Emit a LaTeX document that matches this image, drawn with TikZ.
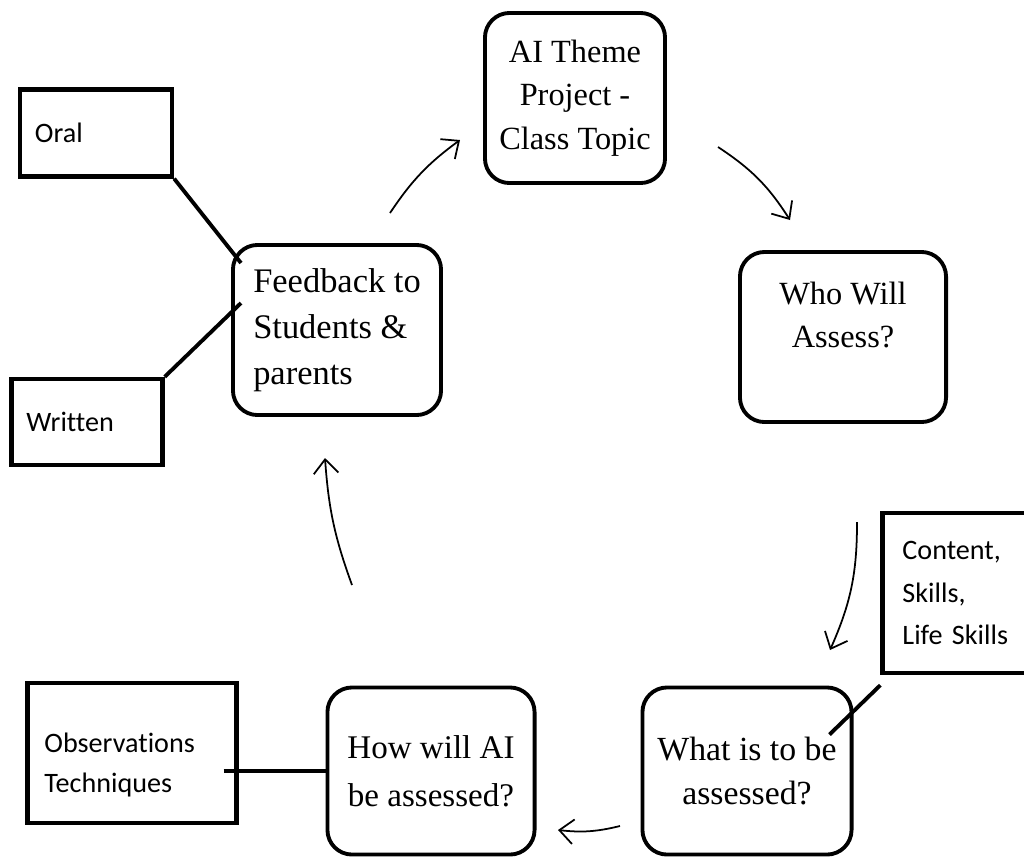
\documentclass[tikz,border=0pt]{standalone}
\usepackage{fontspec}
\setmainfont{Liberation Serif}
\newfontfamily\calib[Ligatures=NoCommon]{Carlito}
\usetikzlibrary{positioning,calc,arrows.meta}
\tikzset{dround/.style={draw, line width=1.1pt, rounded corners=7pt, align=center, font=\fontsize{9.2}{12.4}\selectfont}}
\tikzset{dsquare/.style={draw, line width=1.2pt, align=left, inner xsep=0.15cm, font=\calib\fontsize{8}{11.5}\selectfont}}
\tikzset{link/.style={draw, line width=1.1pt}}
\tikzset{arr2/.style={draw, line width=0.5pt, -{Straight Barb[length=4pt,width=7pt]}}}

\begin{document}
\begin{tikzpicture}[x=0.01cm, y=0.01cm]
	\useasboundingbox (0,0) rectangle (1024,-857);
	% the cycle
	\node[dround, minimum width=1.8cm, minimum height=1.7cm] (theme) at (575,-98) {AI Theme\\Project -\\Class Topic};
	\node[dround, minimum width=2.06cm, minimum height=1.7cm,
		label={[dround, draw=none, name=whotext, yshift=0.22cm]center:Who Will\\Assess?}] (who) at (843,-337) {};
	\node[dround, minimum width=2.09cm, minimum height=1.67cm, font=\fontsize{9.6}{12.6}\selectfont] (what) at (747,-771) {What is to be\\assessed?};
	\node[dround, minimum width=2.07cm, minimum height=1.67cm, font=\fontsize{9.4}{13.6}\selectfont] (how) at (431,-771) {How will AI\\be assessed?};
	\node[dround, align=left, minimum width=2.08cm, minimum height=1.7cm,
		font=\fontsize{9.8}{13}\selectfont] (feed) at (337,-330) {Feedback to\\Students \&\\parents};
	% side boxes
	\node[dsquare, text width=1.22cm, minimum height=0.87cm] (oral) at (96,-133) {Oral};
	\node[dsquare, text width=1.21cm, minimum height=0.86cm] (written) at (87,-422) {Written};
	\node[dsquare, text width=1.75cm, inner xsep=0.17cm, minimum height=1.4cm,
		label={[dsquare, draw=none, name=obstext, text width=1.75cm, inner xsep=0.17cm, yshift=-0.12cm]center:Observations\\Techniques}] (obs) at (132,-753) {};
	\node[dsquare, text width=1.07cm, inner xsep=0.2cm, minimum height=1.6cm,
		font=\calib\fontsize{8}{12.2}\selectfont] (cont) at (956,-593) {Content,\\Skills,\\Life Skills};
	% links
	\draw[link] (oral.south east) -- ([shift={(10,-20)}]feed.north west);
	\draw[link] (written.north east) -- ([shift={(10,-60)}]feed.north west);
	\coordinate (obsin) at ([xshift=-0.15cm]obs.east);
	\draw[link] (obsin |- how.west) -- (how.west);
	\draw[link] ([yshift=-0.1cm]cont.south west) -- ([shift={(-24,-49)}]what.north east);
	% arrows
	\coordinate (a1s) at (390,-213);
	\coordinate (a1e) at (460,-140);
	\coordinate (a2s) at (718,-147);
	\coordinate (a2e) at (790,-220);
	\coordinate (a3s) at (857,-522);
	\coordinate (a3e) at (830,-650);
	\coordinate (a4s) at (620,-826);
	\coordinate (a4e) at (558,-830);
	\coordinate (a5s) at (352,-585);
	\coordinate (a5e) at (325,-458);
	\draw[arr2] (a1s) to[bend left=10] (a1e);
	\draw[arr2] (a2s) to[bend left=12] (a2e);
	\draw[arr2] (a3s) to[bend left=12] (a3e);
	\draw[arr2] (a4s) to[bend left=10] (a4e);
	\draw[arr2] (a5s) to[bend left=8] (a5e);
\end{tikzpicture}
\end{document}
